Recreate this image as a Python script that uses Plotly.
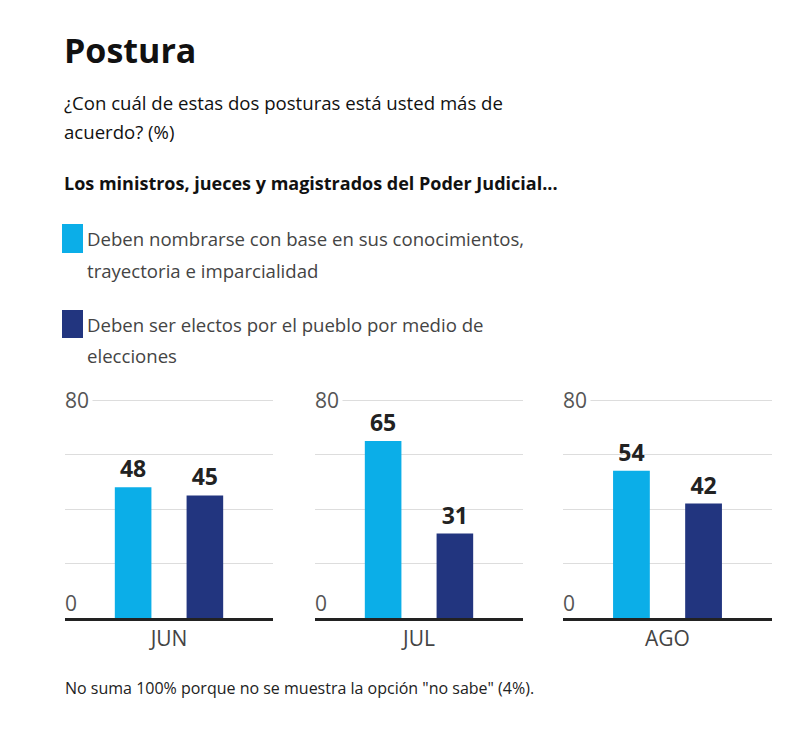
import plotly.graph_objects as go

months = ["JUN", "JUL", "AGO"]
series_lines = [
    ["Deben nombrarse con base en sus conocimientos,", "trayectoria e imparcialidad"],
    ["Deben ser electos por el pueblo por medio de", "elecciones"],
]
series_names = [" ".join(l) for l in series_lines]
values_merito = [48, 65, 54]
values_eleccion = [45, 31, 42]
colors = ["#0BAEE8", "#22357F"]
y_ticks = [0, 80]
grid_vals = [20, 40, 60, 80]

OFF = 8  # page body margin
W, H = 810 - OFF, 730 - OFF
FONT = "Open Sans"

def px_x(v):
    return (v - OFF) / W

def px_y(v):
    return 1 - (v - OFF) / H

fig = go.Figure()

panels = [(65, 273), (315, 523), (563, 772)]
YMAX = 80.4
plot_h = 218 * YMAX / 80
y_dom = [px_y(618), px_y(618 - plot_h)]

for i, m in enumerate(months):
    ax = "" if i == 0 else str(i + 1)
    for s, vals in enumerate([values_merito, values_eleccion]):
        fig.add_trace(go.Bar(
            x=[m], y=[vals[i]], name=series_names[s],
            marker=dict(color=colors[s], line=dict(width=0)),
            text=[vals[i]], texttemplate="<b>%{text}</b>",
            textposition="outside", cliponaxis=False,
            textfont=dict(size=23, color="#222222", family=FONT),
            xaxis="x" + ax, yaxis="y" + ax, showlegend=False,
        ))
    fig.layout["xaxis" + ax] = dict(
        domain=[px_x(panels[i][0]), px_x(panels[i][1])], anchor="y" + ax,
        showline=True, linecolor="#222222", linewidth=3, ticks="",
        tickfont=dict(size=21, color="#444444", family=FONT),
        showgrid=False, fixedrange=True,
    )
    fig.layout["yaxis" + ax] = dict(
        domain=y_dom, anchor="x" + ax, range=[0, YMAX],
        tickvals=grid_vals, showticklabels=False, showgrid=True,
        gridcolor="#dddddd", gridwidth=1, zeroline=False, showline=False,
    )
    for t in y_ticks:
        fig.add_annotation(
            xref=("x" + ax + " domain"), yref="y" + ax, x=0, y=t,
            text=str(t), showarrow=False, xanchor="left",
            yanchor="middle" if t == 80 else "bottom",
            xshift=-4, yshift=0 if t == 80 else -3,
            bgcolor="white" if t == 80 else None, borderpad=3,
            font=dict(size=21, color="#555555", family=FONT),
        )

# Title texts
fig.add_annotation(xref="paper", yref="paper", x=px_x(62), y=px_y(50), text="<b>Postura</b>",
                   showarrow=False, xanchor="left", yanchor="middle",
                   font=dict(size=34, color="#111111", family=FONT))
for txt, yy in [("¿Con cuál de estas dos posturas está usted más de", 103),
                ("acuerdo? (%)", 131)]:
    fig.add_annotation(xref="paper", yref="paper", x=px_x(62), y=px_y(yy),
                       text=txt, showarrow=False, xanchor="left", yanchor="middle",
                       font=dict(size=18.6, color="#111111", family=FONT))
fig.add_annotation(xref="paper", yref="paper", x=px_x(62), y=px_y(183),
                   text="<b>Los ministros, jueces y magistrados del Poder Judicial...</b>",
                   showarrow=False, xanchor="left", yanchor="middle",
                   font=dict(size=18, color="#111111", family=FONT))

# Legend
leg_y = [(224, 253), (310, 338)]
leg_line_y = [(238, 270), (324, 355)]
for s in range(2):
    fig.add_shape(type="rect", xref="paper", yref="paper",
                  x0=px_x(62), x1=px_x(83), y0=px_y(leg_y[s][1]), y1=px_y(leg_y[s][0]),
                  fillcolor=colors[s], line=dict(width=0))
    for line, yy in zip(series_lines[s], leg_line_y[s]):
        fig.add_annotation(xref="paper", yref="paper", x=px_x(85), y=px_y(yy),
                           text=line, showarrow=False, xanchor="left",
                           yanchor="middle",
                           font=dict(size=18.6, color="#444444", family=FONT))

# Footnote
fig.add_annotation(xref="paper", yref="paper", x=px_x(63), y=px_y(688),
                   text="No suma 100% porque no se muestra la opción \"no sabe\" (4%).",
                   showarrow=False, xanchor="left", yanchor="middle",
                   font=dict(size=16, color="#222222", family=FONT))

fig.update_layout(
    width=W, height=H, margin=dict(l=0, r=0, t=0, b=0),
    paper_bgcolor="white", plot_bgcolor="white",
    barmode="group", bargap=0.31, bargroupgap=0.49,
    showlegend=False,
)

fig.write_html("out.html")
